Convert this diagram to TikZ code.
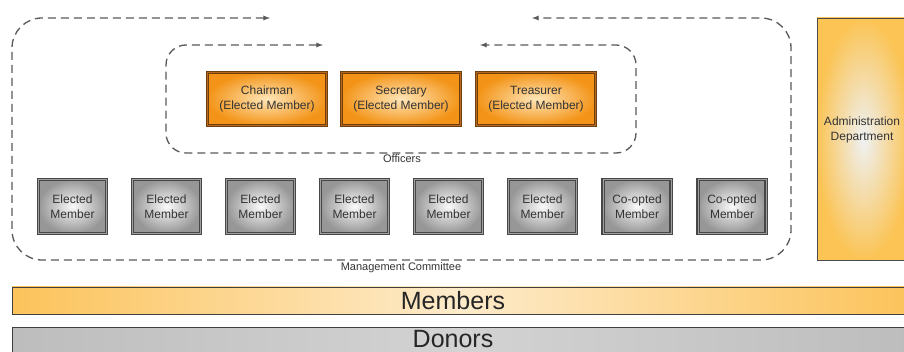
\documentclass[tikz,border=0pt]{standalone}
\usepackage{fontspec}
\setmainfont{Liberation Sans}
\definecolor{orOuter}{HTML}{F39418}
\definecolor{orInner}{HTML}{FFE6B8}
\definecolor{orBorder}{HTML}{6E3F10}
\definecolor{orMid}{HTML}{B8681A}
\definecolor{barOr}{HTML}{FCC35A}
\definecolor{barOrLight}{HTML}{FDEBCB}
\definecolor{adOr}{HTML}{FBC455}
\definecolor{adIn}{HTML}{EEF1F3}
\definecolor{grOuter}{HTML}{979797}
\definecolor{grInner}{HTML}{FAFAFA}
\definecolor{grBorder}{HTML}{474747}
\definecolor{grMid}{HTML}{A0A0A0}
\definecolor{dnGray}{HTML}{BDBDBD}
\definecolor{dnLight}{HTML}{D3D3D3}
\begin{document}
\begin{tikzpicture}[x=1pt,y=-1pt,
  txt/.style={text=black!80, font=\fontsize{12}{14.5}\selectfont, align=center},
  graybox/.style={txt, rectangle, minimum width=68pt, minimum height=54pt, inner sep=0pt,
     inner color=grInner, outer color=grOuter, draw=grBorder, double=grMid, double distance=0.9pt, line width=1.1pt},
  orangebox/.style={txt, rectangle, minimum width=119pt, minimum height=53pt, inner sep=0pt,
     inner color=orInner, outer color=orOuter, draw=orBorder, double=orMid, double distance=0.9pt, line width=1.1pt},
  loop/.style={dashed, dash pattern=on 8pt off 5pt, draw=black!65, line width=1.3pt},
  lbl/.style={text=black!80, font=\fontsize{11}{12}\selectfont, inner sep=1pt},
  big/.style={text=black!85, font=\fontsize{25}{26}\selectfont}
]
\useasboundingbox (0,0) rectangle (904,352);

% outer loop (Management Committee)
\coordinate (oA) at (270,18);
\coordinate (oTL) at (12,18);
\coordinate (oBL) at (12,260);
\coordinate (oBR) at (791,260);
\coordinate (oTR) at (791,18);
\coordinate (oB) at (532,18);
\draw[loop, latex-latex, rounded corners=30pt] (oA) -- (oTL) -- (oBL) -- (oBR) -- (oTR) -- (oB);

% inner loop (Officers)
\coordinate (iA) at (323,45);
\coordinate (iTL) at (166,45);
\coordinate (iBL) at (166,153);
\coordinate (iBR) at (636,153);
\coordinate (iTR) at (636,45);
\coordinate (iB) at (480,45);
\draw[loop, latex-latex, rounded corners=20pt] (iA) -- (iTL) -- (iBL) -- (iBR) -- (iTR) -- (iB);

\node[lbl] (officers) at (402,159) {Officers};
\node[lbl] (mgmt) at (401,268) {Management Committee};

% officers
\node[orangebox] (chair) at (267,99) {Chairman\\(Elected Member)};
\node[orangebox] (sec) at (401,99) {Secretary\\(Elected Member)};
\node[orangebox] (treas) at (536,99) {Treasurer\\(Elected Member)};

% members of committee
\node[graybox] (m1) at (72.5,206.5) {Elected\\Member};
\node[graybox] (m2) at (166.5,206.5) {Elected\\Member};
\node[graybox] (m3) at (260.5,206.5) {Elected\\Member};
\node[graybox] (m4) at (354.5,206.5) {Elected\\Member};
\node[graybox] (m5) at (448.5,206.5) {Elected\\Member};
\node[graybox] (m6) at (542.5,206.5) {Elected\\Member};
\node[graybox] (m7) at (637,206.5) {Co-opted\\Member};
\node[graybox] (m8) at (732,206.5) {Co-opted\\Member};

% administration department
\shade[inner color=adIn, outer color=adOr, draw=black!70, line width=0.8pt]
  (817,18) rectangle (910,260);
\node[txt] (admin) at (862,130) {Administration\\Department};

% members bar
\shade[left color=barOr, right color=barOr, middle color=barOrLight, draw=black!75, line width=0.8pt]
  (12,287) rectangle (910,314);
\node[big] (members) at (453,300.5) {Members};

% donors bar
\shade[left color=dnGray, right color=dnGray, middle color=dnLight, draw=black!75, line width=0.8pt]
  (12,327) rectangle (910,360);
\node[big] (donors) at (453,339.5) {Donors};
\end{tikzpicture}
\end{document}
